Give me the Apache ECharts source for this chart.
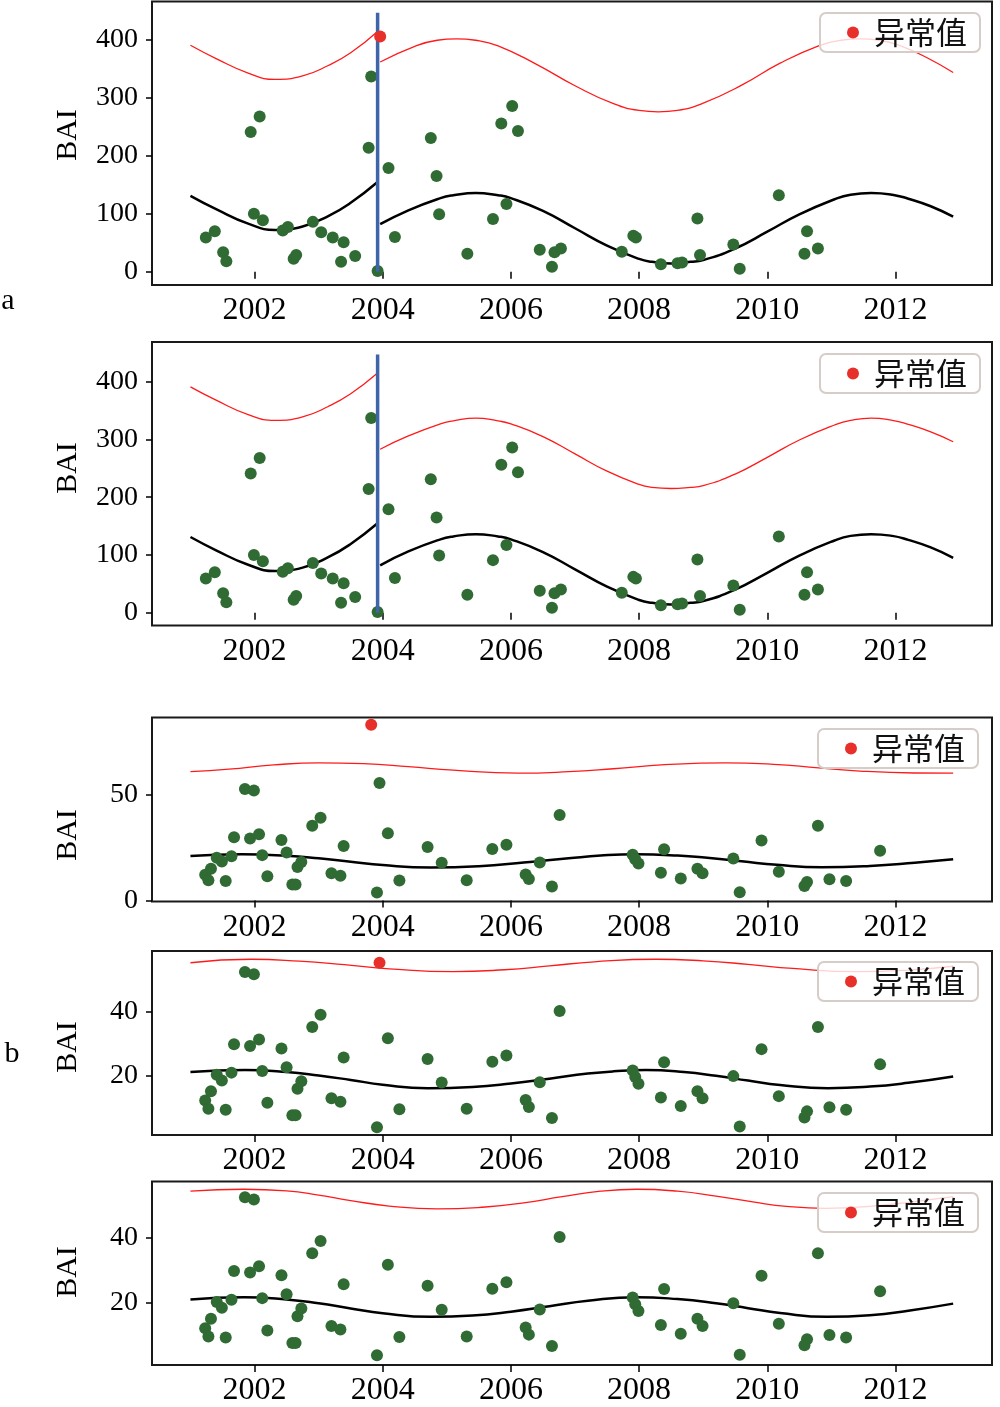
<!DOCTYPE html>
<html><head><meta charset="utf-8">
<script src="https://cdn.jsdelivr.net/npm/echarts@6.0.0/dist/echarts.min.js"></script>
<style>html,body{margin:0;padding:0;background:#fff}#c{width:1000px;height:1407px}</style>
</head><body><div id="c"></div>
<script>
// ---------- tick labels ----------
const xTicks = [2002, 2004, 2006, 2008, 2010, 2012];
const yTicksA = [0, 100, 200, 300, 400];
const yTicksB3 = [0, 50];
const yTicksB45 = [20, 40];
const legendName = '异常值';

// ---------- panel a data ----------
const aGreen = [[2001.24,59],[2001.38,70],[2001.51,33.5],[2001.56,18],[2001.94,241],[2002.08,268],[2001.99,100],[2002.13,89],[2002.44,71],[2002.52,77],[2002.61,22.5],[2002.65,29],[2002.91,86],[2003.04,68],[2003.22,59],[2003.39,51],[2003.35,17],[2003.57,27],[2003.78,214],[2003.82,337],[2003.92,1],[2004.09,179],[2004.19,60],[2004.75,231],[2004.84,165],[2004.88,99],[2005.32,31],[2005.72,91],[2005.85,256],[2006.02,286],[2005.93,117],[2006.11,243],[2006.45,38],[2006.64,8.6],[2006.68,33.5],[2006.78,40],[2007.73,34.5],[2007.91,62],[2007.95,59],[2008.34,13],[2008.60,14.5],[2008.67,16],[2008.91,92],[2008.95,29],[2009.47,47],[2009.57,5],[2010.18,132],[2010.62,70],[2010.58,31],[2010.79,40]];
const aOutlier = [[2003.96,406]];
const aFitSeg1 = [[2001.0,131],[2001.4,108],[2001.9,83],[2002.32,72],[2002.75,78],[2003.15,96],[2003.5,119],[2003.91,154]];
const aFitSeg2 = [[2003.96,82],[2004.4,106],[2004.9,127],[2005.1,132],[2005.45,136],[2005.8,132],[2006.0,127],[2006.5,105],[2007.0,75],[2007.5,45],[2008.0,22],[2008.2,17],[2008.5,14],[2008.8,17],[2009.0,20],[2009.5,40],[2010.0,69],[2010.5,99],[2011.05,125],[2011.3,133],[2011.62,136],[2011.95,133],[2012.2,126],[2012.55,113],[2012.9,95]];
const a1UpperSeg1 = [[2001.0,391],[2001.4,368],[2001.9,343],[2002.32,332],[2002.75,338],[2003.15,356],[2003.5,378],[2003.91,414]];
const a1UpperSeg2 = [[2003.96,362],[2004.5,389],[2004.85,399.6],[2005.15,402],[2005.45,399.6],[2005.8,390],[2006.4,358],[2007.0,321],[2007.6,290],[2008.0,278.4],[2008.3,276],[2008.6,278.4],[2009.0,291],[2009.6,322],[2010.2,360],[2010.8,390],[2011.15,399.6],[2011.45,402],[2011.75,399.6],[2012.1,389],[2012.5,369],[2012.9,344]];
const a2UpperSeg1 = [[2001.0,391],[2001.4,368],[2001.9,343],[2002.32,333],[2002.75,339],[2003.15,357],[2003.5,379],[2003.91,414]];
const a2UpperSeg2 = [[2003.96,283],[2004.4,306],[2004.9,327],[2005.1,332],[2005.45,337],[2005.8,332],[2006.0,327],[2006.5,305],[2007.0,275],[2007.5,245],[2008.0,222],[2008.2,217],[2008.5,215],[2008.8,217],[2009.0,220],[2009.5,240],[2010.0,269],[2010.5,299],[2011.05,325],[2011.3,333],[2011.62,337],[2011.95,333],[2012.2,326],[2012.55,313],[2012.9,296]];
const aBreak = [[2003.92,0],[2003.92,447]];

// ---------- panel b data ----------
const bGreen = [[2001.23,12.1],[2001.28,9.5],[2001.32,15.0],[2001.41,20.2],[2001.49,18.4],[2001.64,20.9],[2001.55,9.2],[2001.68,29.8],[2001.85,52.6],[2001.99,51.9],[2001.93,29.3],[2002.07,31.3],[2002.12,21.4],[2002.20,11.4],[2002.42,28.5],[2002.50,22.6],[2002.59,7.5],[2002.64,7.5],[2002.67,15.8],[2002.73,18.2],[2002.90,35.3],[2003.03,39.1],[2003.20,12.8],[2003.34,11.7],[2003.39,25.7],[2003.91,3.7],[2004.08,31.7],[2004.26,9.4],[2004.70,25.2],[2004.92,17.8],[2005.31,9.5],[2005.71,24.3],[2005.93,26.3],[2006.23,12.3],[2006.28,10.1],[2006.45,17.9],[2006.64,6.6],[2006.76,40.3],[2007.90,21.6],[2007.94,19.5],[2007.99,17.4],[2008.39,24.2],[2008.34,13.1],[2008.65,10.4],[2008.91,15.0],[2008.99,12.8],[2009.47,19.8],[2009.57,3.9],[2009.91,28.3],[2010.18,13.5],[2010.58,6.8],[2010.62,8.7],[2010.79,35.3],[2010.97,10.0],[2011.23,9.2],[2011.76,23.5]];
const bOutlierHigh = [[2003.82,83]];
const bOutlierSecond = [[2003.95,55.5]];
const b3Fit = [[2001.0,21.0],[2001.8,21.8],[2002.5,21.1],[2003.0,19.9],[2003.5,18.3],[2004.0,16.7],[2004.75,15.6],[2005.5,16.2],[2006.2,17.9],[2006.9,19.9],[2007.4,21.2],[2007.95,21.8],[2008.6,21.2],[2009.1,20.0],[2009.6,18.5],[2010.15,16.8],[2010.85,15.7],[2011.6,16.3],[2012.3,17.8],[2012.9,19.4]];
const b3Upper = [[2001.0,60.8],[2001.6,62.0],[2002.3,64.0],[2003.0,65.0],[2003.7,64.6],[2004.4,63.2],[2005.1,61.5],[2006.1,60.1],[2006.9,60.8],[2007.6,62.2],[2008.4,64.1],[2009.35,65.0],[2010.1,64.3],[2010.8,62.6],[2011.5,61.0],[2012.3,60.2],[2012.9,60.1]];
const b4Fit = [[2001.0,21.1],[2001.85,21.7],[2002.5,21.1],[2003.0,20.0],[2003.5,18.6],[2004.0,17.1],[2004.7,16.0],[2005.4,16.4],[2006.0,17.5],[2006.6,19.0],[2007.2,20.6],[2007.6,21.3],[2008.1,21.7],[2008.7,21.1],[2009.2,19.9],[2009.7,18.4],[2010.2,17.0],[2010.95,16.0],[2011.6,16.5],[2012.2,17.7],[2012.9,19.7]];
const b4Upper = [[2001.0,55.5],[2001.95,56.6],[2002.7,56.0],[2003.4,54.9],[2004.1,53.6],[2005.1,52.7],[2005.9,53.3],[2006.6,54.5],[2007.3,55.8],[2008.27,56.6],[2009.0,56.1],[2009.7,55.0],[2010.4,53.7],[2011.4,52.7],[2012.2,53.2],[2012.9,54.4]];
const b5Fit = [[2001.0,21.0],[2001.83,21.7],[2002.5,21.0],[2003.0,19.8],[2003.5,18.2],[2004.0,16.7],[2004.75,15.6],[2005.4,16.0],[2006.0,17.2],[2006.6,18.9],[2007.2,20.6],[2007.96,21.7],[2008.6,21.1],[2009.2,19.8],[2009.7,18.3],[2010.2,16.8],[2010.93,15.6],[2011.6,16.1],[2012.2,17.5],[2012.9,19.7]];
const b5Upper = [[2001.0,54.55],[2001.83,55.1],[2002.5,54.6],[2003.0,53.3],[2003.5,51.6],[2004.1,49.9],[2004.85,49.0],[2005.6,49.6],[2006.2,50.9],[2006.8,52.8],[2007.4,54.5],[2007.96,55.1],[2008.6,54.5],[2009.2,53.0],[2009.8,51.1],[2010.3,49.8],[2010.9,49.2],[2011.6,49.8],[2012.3,51.3],[2012.9,52.8]];

// ---------- layout / styles ----------
const GREEN = '#2f6b33', RED = '#e8302b', LINE_RED = '#ff1a1a', BLUE = '#3d65a7';
const X_MIN = 2000.40, X_MAX = 2013.506;
const grids = [
  {top: 1.5, height: 283.5, ymin: -23, ymax: 466.5, ticks: yTicksA, bai: 135, leg: [820, 13]},
  {top: 342, height: 283.5, ymin: -22.2, ymax: 468.7, ticks: yTicksA, bai: 468, leg: [820, 354]},
  {top: 717.5, height: 184, ymin: -0.5, ymax: 86.4, ticks: yTicksB3, bai: 835, leg: [818, 729]},
  {top: 951, height: 184, ymin: 1.26, ymax: 59.2, ticks: yTicksB45, bai: 1047, leg: [818, 962]},
  {top: 1181.5, height: 184.5, ymin: 0.7, ymax: 57.5, ticks: yTicksB45, bai: 1272, leg: [818, 1193]}
];
const SERIF = 'Liberation Serif';

const option = {
  animation: false,
  backgroundColor: '#fff',
  grid: grids.map(g => ({left: 152, width: 840, top: g.top, height: g.height, show: true, borderColor: '#1a1a1a', borderWidth: 2, backgroundColor: '#fff'})),
  xAxis: grids.map((g, i) => ({
    type: 'value', gridIndex: i, min: X_MIN, max: X_MAX,
    axisLine: {show: false}, splitLine: {show: false},
    axisTick: {show: true, length: 7, lineStyle: {color: '#000', width: 1.5}, customValues: xTicks},
    axisLabel: {customValues: xTicks, formatter: v => String(Math.round(v)), fontFamily: SERIF, fontSize: 32, color: '#000', margin: 10}
  })),
  yAxis: grids.map((g, i) => ({
    type: 'value', gridIndex: i, min: g.ymin, max: g.ymax,
    axisLine: {show: false}, splitLine: {show: false},
    axisTick: {show: true, length: 6, lineStyle: {color: '#000', width: 1.5}, customValues: g.ticks},
    axisLabel: {customValues: g.ticks, formatter: v => String(Math.round(v)), fontFamily: SERIF, fontSize: 28, color: '#000', margin: 14}
  })),
  legend: grids.map(g => ({
    data: [legendName], left: g.leg[0], top: g.leg[1], orient: 'horizontal',
    icon: 'circle', itemWidth: 12, itemHeight: 12, itemGap: 10, selectedMode: false,
    textStyle: {fontFamily: 'Noto Sans CJK SC', fontSize: 31, color: '#111', padding: [0, 0, 0, 10]},
    backgroundColor: 'rgba(255,255,255,0.8)', borderColor: '#d6ccc8', borderWidth: 2, borderRadius: 6,
    padding: [4, 13, 4, 27]
  })),
  graphic: [
    ...grids.map(g => ({type: 'text', x: 68, y: g.bai, rotation: Math.PI / 2,
      style: {text: 'BAI', font: '30px "Liberation Serif"', fill: '#000', align: 'center', verticalAlign: 'middle'}})),
    {type: 'text', x: 8, y: 301, style: {text: 'a', font: '30px "Liberation Serif"', fill: '#000', align: 'center', verticalAlign: 'middle'}},
    {type: 'text', x: 12, y: 1054, style: {text: 'b', font: '30px "Liberation Serif"', fill: '#000', align: 'center', verticalAlign: 'middle'}}
  ],
  series: []
};

function line(gi, data, color, width, z) {
  return {type: 'line', xAxisIndex: gi, yAxisIndex: gi, data, smooth: 0.5, showSymbol: false, symbol: 'none',
    lineStyle: {color, width}, z: z || 2, silent: true};
}
function dots(gi, data, color, name, z) {
  return {type: 'scatter', name, xAxisIndex: gi, yAxisIndex: gi, data, symbolSize: 12,
    itemStyle: {color, opacity: 1}, z: z || 3, silent: true};
}
const S = option.series;
// panel 1
S.push(line(0, aFitSeg1, '#000', 2.5), line(0, aFitSeg2, '#000', 2.5),
       line(0, a1UpperSeg1, LINE_RED, 1.3), line(0, a1UpperSeg2, LINE_RED, 1.3),
       dots(0, aGreen, GREEN, 'green1'),
       {type: 'line', xAxisIndex: 0, yAxisIndex: 0, data: aBreak, showSymbol: false, symbol: 'none', lineStyle: {color: BLUE, width: 3.5}, z: 4, silent: true},
       dots(0, aOutlier, RED, legendName, 5));
// panel 2
S.push(line(1, aFitSeg1, '#000', 2.5), line(1, aFitSeg2, '#000', 2.5),
       line(1, a2UpperSeg1, LINE_RED, 1.3), line(1, a2UpperSeg2, LINE_RED, 1.3),
       dots(1, aGreen, GREEN, 'green2'),
       {type: 'line', xAxisIndex: 1, yAxisIndex: 1, data: aBreak, showSymbol: false, symbol: 'none', lineStyle: {color: BLUE, width: 3.5}, z: 4, silent: true},
       dots(1, [], RED, legendName, 5));
// panel 3
S.push(line(2, b3Fit, '#000', 2.5), line(2, b3Upper, LINE_RED, 1.3),
       dots(2, bGreen.concat(bOutlierSecond), GREEN, 'green3'),
       dots(2, bOutlierHigh, RED, legendName, 5));
// panel 4
S.push(line(3, b4Fit, '#000', 2.5), line(3, b4Upper, LINE_RED, 1.3),
       dots(3, bGreen, GREEN, 'green4'),
       dots(3, bOutlierSecond, RED, legendName, 5));
// panel 5
S.push(line(4, b5Fit, '#000', 2.5), line(4, b5Upper, LINE_RED, 1.3),
       dots(4, bGreen, GREEN, 'green5'),
       dots(4, [], RED, legendName, 5));

const chart = echarts.init(document.getElementById('c'), null, {renderer: 'canvas'});
chart.setOption(option);
</script></body></html>
